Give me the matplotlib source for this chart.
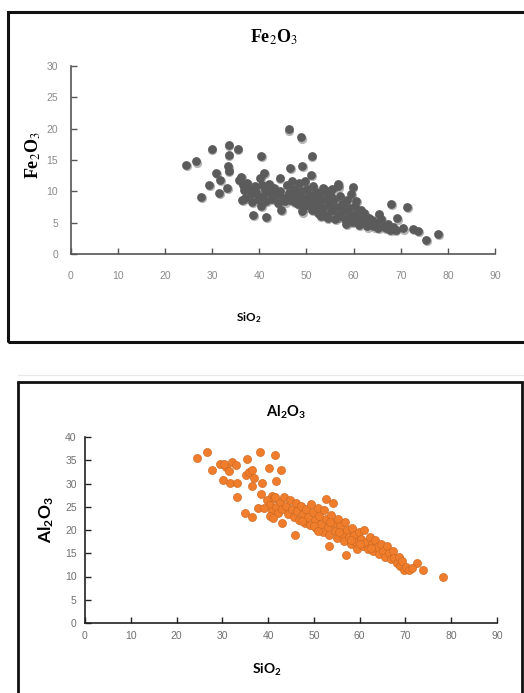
import matplotlib
matplotlib.use("Agg")
import matplotlib.pyplot as plt
from matplotlib.patches import Rectangle

plt.rcParams["mathtext.fontset"] = "custom"
plt.rcParams["mathtext.rm"] = "Lato:bold"
plt.rcParams["mathtext.bf"] = "Lato:bold"
plt.rcParams["mathtext.it"] = "Lato:bold"

# --- Fe2O3 vs SiO2 (wt %) ---
fe_sio2 = [24.4, 26.6, 27.7, 29.4, 29.9, 30.8, 31.6, 31.5, 33.1, 33.5, 33.5, 33.3, 33.5, 35.4,
           40.4, 41.0, 38.6, 41.4, 46.2, 48.9, 51.1, 49.1, 46.5, 51.0, 44.3, 67.9, 71.3, 69.3,
           72.6, 73.7, 75.4, 78.0, 68.9, 70.5, 59.8, 60.6, 56.7, 53.5, 65.3,
           35.8, 36.2, 36.5, 36.8, 37.0, 36.4, 37.5, 37.8, 38.2, 38.5, 39.0, 39.4, 39.8, 40.2,
           40.6, 41.2, 40.8, 41.5, 40.3,
           42.0, 42.4, 42.8, 43.2, 43.6, 44.0, 44.6, 44.5, 45.0, 45.5, 45.8, 46.2, 46.8, 47.0,
           47.3, 47.8, 48.2, 48.4, 48.8, 49.0, 49.2, 49.6, 49.8, 50.2, 50.5, 50.8, 51.2, 51.5,
           51.8, 52.2, 52.5, 52.8, 53.2, 53.5, 53.8, 54.0, 54.3, 54.8, 55.2, 55.5, 55.8, 56.2,
           56.6, 56.8, 57.2, 57.5, 57.8, 58.2, 58.4, 58.6, 59.0, 59.3, 59.5, 59.8, 60.2, 60.5,
           60.9, 61.2, 61.5, 61.8, 62.2, 62.5, 62.8, 63.2, 63.5, 64.0, 64.4, 64.8, 65.2, 65.8,
           66.2, 66.8, 67.2, 67.8, 68.4,
           46.5, 47.5, 48.5, 53.0, 54.5, 56.0, 57.0, 55.0, 52.0, 50.0]
fe_fe2o3 = [14.2, 14.8, 9.1, 11.0, 16.8, 12.9, 11.8, 9.7, 10.5, 17.4, 15.8, 14.0, 13.3, 16.8,
            15.7, 13.0, 6.3, 5.9, 19.9, 18.6, 15.7, 14.1, 13.7, 12.6, 12.1, 8.0, 7.5, 5.7,
            4.0, 3.7, 2.2, 3.2, 3.9, 4.1, 10.7, 8.5, 11.2, 10.5, 6.4,
            11.8, 12.3, 11.0, 10.2, 9.0, 8.6, 11.4, 10.4, 9.5, 8.3, 10.8, 9.9, 8.8, 12.2,
            11.0, 10.2, 9.3, 8.5, 7.7,
            11.2, 9.8, 8.8, 10.6, 9.4, 8.2, 7.1, 10.0, 9.0, 8.4, 11.0, 9.8, 8.6, 11.6,
            10.4, 9.2, 8.0, 11.3, 10.1, 6.8, 8.8, 11.6, 7.6, 10.4, 9.4, 8.2, 7.1, 10.8,
            9.0, 7.8, 6.6, 9.8, 8.6, 7.4, 6.3, 10.2, 9.0, 7.9, 6.8, 10.4, 8.8, 7.5,
            6.2, 10.8, 9.2, 8.0, 6.9, 5.6, 4.8, 8.6, 7.4, 6.2, 9.6, 5.1, 7.6, 6.4,
            5.3, 4.6, 7.0, 5.9, 6.6, 5.2, 4.4, 5.8, 4.8, 5.5, 4.4, 5.0, 4.2, 5.6,
            4.6, 4.2, 4.8, 3.9, 4.3,
            8.9, 8.3, 9.6, 6.1, 5.8, 5.6, 6.0, 9.4, 9.9, 9.0]

# --- Al2O3 vs SiO2 (wt %) ---
al_sio2 = [24.4, 26.6, 27.7, 29.5, 30.1, 31.7, 33.3, 33.3, 34.9, 36.5, 35.4, 36.5, 38.2, 38.7,
           38.4, 37.8, 41.5, 40.2, 42.9, 41.8, 40.8, 43.1, 45.9, 52.6, 54.1, 53.2, 57.1, 72.6,
           73.9, 78.2, 30.8, 32.2, 32.9, 30.3, 31.5, 35.2, 35.9, 36.4, 37.0,
           39.8, 40.4, 40.9, 41.3, 41.8, 42.2, 42.6, 43.0, 43.5, 44.0, 44.3, 44.8, 45.2, 45.6,
           46.0, 46.4, 46.8, 47.2, 47.6, 48.0, 48.3, 48.7, 49.1, 49.4, 49.8, 50.2, 50.5, 50.8,
           51.2, 51.6, 52.0, 52.3, 52.7, 53.0, 53.4, 53.8, 54.2, 54.6, 55.0, 55.3, 55.7, 56.1,
           56.5, 56.9, 57.3, 57.6, 58.0, 58.4, 58.8, 59.2, 59.5, 59.9, 60.3, 60.7, 61.0, 61.4,
           61.8, 62.2, 62.6, 63.0, 63.4, 63.8, 64.2, 64.6, 65.0, 65.5, 65.9, 66.3, 66.8, 67.2,
           67.6, 68.1, 68.5, 68.9, 69.3, 69.7, 70.2, 70.7, 71.4,
           40.5, 41.0, 39.0, 41.6, 50.0, 51.0, 53.5, 55.5, 58.0, 60.0, 62.5, 47.5]
al_al2o3 = [35.5, 36.8, 32.8, 34.1, 30.8, 30.1, 30.1, 27.2, 23.7, 22.7, 35.3, 29.4, 36.7, 30.1,
            27.7, 24.7, 36.2, 33.3, 32.8, 30.5, 27.4, 21.4, 19.0, 26.7, 25.8, 16.6, 14.7, 12.9,
            11.5, 9.9, 33.6, 34.6, 33.9, 34.2, 32.7, 31.8, 32.5, 33.0, 31.2,
            26.5, 25.3, 24.1, 26.8, 25.0, 23.6, 26.1, 24.5, 27.0, 25.2, 23.5, 26.4, 24.6, 22.8,
            25.8, 24.0, 22.2, 25.2, 23.4, 21.6, 24.6, 22.8, 21.0, 25.5, 23.9, 22.1, 20.4, 24.8,
            23.0, 21.2, 19.6, 24.2, 22.4, 20.6, 19.0, 23.2, 21.5, 19.8, 18.3, 22.4, 20.8, 19.2,
            17.6, 21.8, 20.1, 18.5, 16.9, 20.5, 19.0, 17.5, 16.0, 19.6, 18.1, 16.6, 20.0, 17.4,
            15.9, 18.6, 17.0, 15.4, 17.8, 16.3, 14.9, 16.9, 15.5, 14.2, 16.6, 15.0, 13.8, 15.4,
            14.0, 12.8, 14.2, 12.2, 13.4, 11.5, 12.0, 11.3, 11.8,
            23.0, 22.6, 24.8, 27.0, 20.8, 19.8, 21.8, 19.5, 17.8, 17.0, 16.2, 22.0]

x_ticks = list(range(0, 100, 10))
fe_yticks = list(range(0, 35, 5))
al_yticks = list(range(0, 45, 5))

W, H = 524, 693
fig = plt.figure(figsize=(W / 100, H / 100), dpi=100)


def fx(px):
    return px / W


def fy(py):
    return 1 - py / H


# frames around the two charts
fig.add_artist(Rectangle((fx(8), fy(342)), fx(530 - 8), fy(12) - fy(342),
                         transform=fig.transFigure, fill=False, lw=2.2,
                         edgecolor="#111111", clip_on=False))
fig.add_artist(Rectangle((fx(18), fy(700)), fx(522 - 18), fy(382) - fy(700),
                         transform=fig.transFigure, fill=False, lw=2.0,
                         edgecolor="#111111", clip_on=False))
fig.add_artist(plt.Line2D([fx(18), fx(524)], [fy(375), fy(375)],
                          transform=fig.transFigure, color="#e8e8e8", lw=0.8))


def style_axes(ax, spine_color, label_color, pad_x, pad_y):
    for s in ("top", "right"):
        ax.spines[s].set_visible(False)
    for s in ("left", "bottom"):
        ax.spines[s].set_color(spine_color)
        ax.spines[s].set_linewidth(1.2)
    ax.tick_params(direction="in", length=4, width=1.0, color=spine_color,
                   labelsize=7.5, labelcolor=label_color)
    ax.tick_params(axis="x", pad=pad_x)
    ax.tick_params(axis="y", pad=pad_y)
    for lab in ax.get_xticklabels() + ax.get_yticklabels():
        lab.set_family("Liberation Sans")


# ---------- upper chart: Fe2O3 ----------
ax1 = fig.add_axes([fx(70.7), fy(254), fx(495 - 70.7), fy(66) - fy(254)])
ax1.scatter(fe_sio2, fe_fe2o3, s=44, color="#2a2a2a", alpha=0.35, lw=0,
            zorder=2, transform=ax1.transData +
            matplotlib.transforms.ScaledTranslation(0.6 / 72, -0.9 / 72, fig.dpi_scale_trans))
ax1.scatter(fe_sio2, fe_fe2o3, s=40, color="#5b5b5b", lw=0, zorder=3)
ax1.set_xlim(0, 90)
ax1.set_ylim(0, 30)
ax1.set_xticks(x_ticks)
ax1.set_yticks(fe_yticks)
style_axes(ax1, "#555555", "#8a8a8a", 12, 9)
fig.text(fx(274), fy(37), r"Fe$_2$O$_3$", ha="center", va="center",
         fontsize=13, fontweight="bold", family="Liberation Serif",
         math_fontfamily="stix")
fig.text(fx(33), fy(155), r"Fe$_2$O$_3$", ha="center", va="center",
         fontsize=13, fontweight="bold", family="Liberation Serif",
         math_fontfamily="stix", rotation=90)
fig.text(fx(249), fy(318), r"SiO$_2$", ha="center", va="center",
         fontsize=8.5, fontweight="bold", family="Lato", math_fontfamily="custom")

# ---------- lower chart: Al2O3 ----------
ax2 = fig.add_axes([fx(85), fy(623), fx(497 - 85), fy(437) - fy(623)])
ax2.scatter(al_sio2, al_al2o3, s=40, color="#f4c9a8", alpha=0.35, lw=0, zorder=2)
ax2.scatter(al_sio2, al_al2o3, s=34, color="#ef7d2c", edgecolor="#c9661f",
            lw=0.4, zorder=3)
ax2.set_xlim(0, 90)
ax2.set_ylim(0, 40)
ax2.set_xticks(x_ticks)
ax2.set_yticks(al_yticks)
style_axes(ax2, "#222222", "#707070", 6, 6)
fig.text(fx(286), fy(412), r"Al$_2$O$_3$", ha="center", va="center",
         fontsize=10.5, fontweight="bold", family="Lato", math_fontfamily="custom")
fig.text(fx(46), fy(520), r"Al$_2$O$_3$", ha="center", va="center",
         fontsize=12.5, fontweight="bold", family="Lato", math_fontfamily="custom",
         rotation=90)
fig.text(fx(267), fy(670), r"SiO$_2$", ha="center", va="center",
         fontsize=10, fontweight="bold", family="Lato", math_fontfamily="custom")

fig.savefig("out.png", dpi=100, facecolor="white")
